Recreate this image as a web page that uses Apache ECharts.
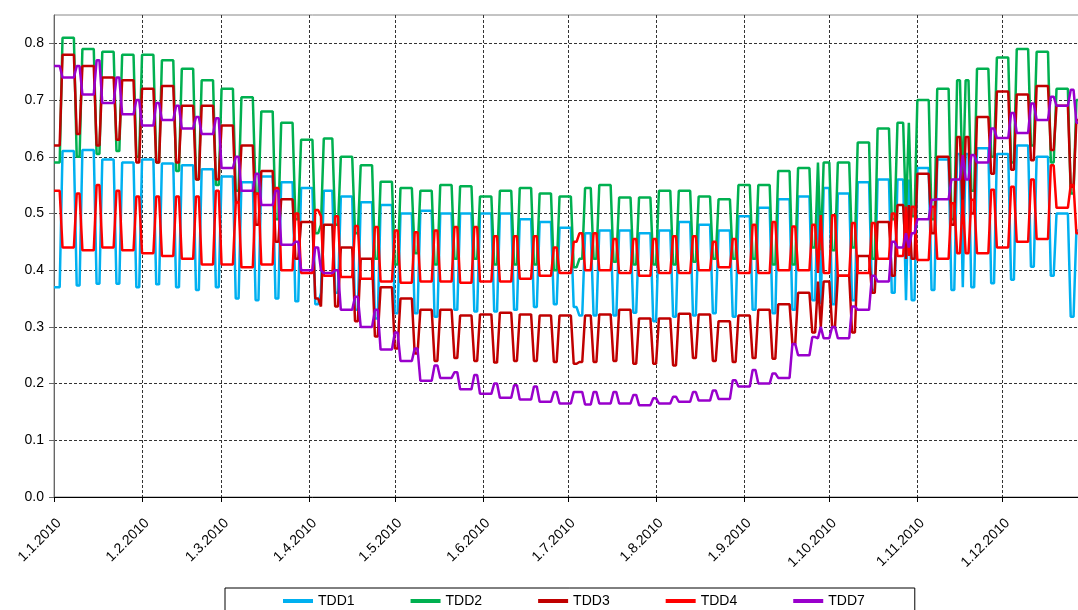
<!DOCTYPE html>
<html>
<head>
<meta charset="utf-8">
<title>TDD 2010</title>
<script src="https://cdn.jsdelivr.net/npm/echarts@6/dist/echarts.min.js"></script>
<style>
  html, body { margin: 0; padding: 0; background: #fff; overflow: hidden; }
  #chartLine { width: 1100px; height: 610px; }
</style>
</head>
<body>
<div id="chartLine"></div>
<script>
// one value per week (week 0 = Fri 1.1. - Sun 3.1., week 1 starts Mon 4.1.)
// wd = Mon-Fri level, we = Sat/Sun/holiday level
var tdd1Wd = [0.37, 0.61, 0.612, 0.595, 0.59, 0.595, 0.588, 0.585, 0.578, 0.565,
              0.555, 0.565, 0.555, 0.545, 0.54, 0.53, 0.52, 0.515, 0.50, 0.505,
              0.50, 0.50, 0.50, 0.50, 0.49, 0.485, 0.475, 0.465, 0.47, 0.47,
              0.465, 0.47, 0.485, 0.48, 0.47, 0.495, 0.51, 0.525, 0.53, 0.545,
              0.535, 0.555, 0.56, 0.56, 0.58, 0.595, 0.605, 0.615, 0.605, 0.62,
              0.60, 0.50, 0.47];
var tdd1We = [0.37, 0.373, 0.376, 0.376, 0.37, 0.375, 0.37, 0.365, 0.37, 0.35,
              0.347, 0.35, 0.345, 0.34, 0.36, 0.33, 0.315, 0.324, 0.324, 0.318,
              0.33, 0.327, 0.327, 0.33, 0.335, 0.34, 0.335, 0.32, 0.32, 0.325,
              0.31, 0.318, 0.32, 0.324, 0.318, 0.33, 0.324, 0.33, 0.347, 0.34,
              0.347, 0.365, 0.36, 0.347, 0.365, 0.365, 0.37, 0.377, 0.383, 0.406,
              0.39, 0.318, 0.40];

var tdd2Wd = [0.59, 0.81, 0.79, 0.785, 0.78, 0.78, 0.77, 0.755, 0.735, 0.72,
              0.705, 0.68, 0.66, 0.63, 0.632, 0.60, 0.585, 0.556, 0.545, 0.54,
              0.55, 0.548, 0.53, 0.54, 0.545, 0.535, 0.53, 0.545, 0.55, 0.528,
              0.528, 0.54, 0.54, 0.53, 0.525, 0.55, 0.55, 0.575, 0.58, 0.59,
              0.59, 0.625, 0.65, 0.66, 0.70, 0.72, 0.735, 0.755, 0.775, 0.79,
              0.785, 0.72, 0.70];
var tdd2We = [0.59, 0.60, 0.605, 0.61, 0.60, 0.59, 0.575, 0.56, 0.55, 0.54,
              0.535, 0.49, 0.49, 0.465, 0.48, 0.465, 0.42, 0.41, 0.43, 0.41,
              0.42, 0.42, 0.41, 0.41, 0.41, 0.40, 0.405, 0.42, 0.415, 0.41,
              0.41, 0.41, 0.415, 0.42, 0.42, 0.42, 0.41, 0.41, 0.44, 0.435,
              0.44, 0.42, 0.49, 0.495, 0.49, 0.49, 0.54, 0.60, 0.59, 0.62,
              0.59, 0.535, 0.60];

var tdd3Wd = [0.62, 0.78, 0.76, 0.74, 0.735, 0.72, 0.725, 0.69, 0.69, 0.655,
              0.62, 0.575, 0.525, 0.485, 0.48, 0.44, 0.42, 0.37, 0.35, 0.33,
              0.33, 0.32, 0.322, 0.325, 0.322, 0.32, 0.32, 0.32, 0.322, 0.33,
              0.315, 0.315, 0.323, 0.322, 0.31, 0.32, 0.33, 0.34, 0.36, 0.38,
              0.39, 0.425, 0.485, 0.515, 0.57, 0.60, 0.635, 0.67, 0.715, 0.71,
              0.725, 0.69, 0.665];
var tdd3We = [0.62, 0.64, 0.62, 0.63, 0.59, 0.59, 0.59, 0.56, 0.56, 0.52,
              0.48, 0.45, 0.42, 0.35, 0.336, 0.31, 0.283, 0.262, 0.253, 0.24,
              0.245, 0.24, 0.237, 0.24, 0.24, 0.238, 0.235, 0.238, 0.24, 0.235,
              0.235, 0.232, 0.245, 0.24, 0.238, 0.245, 0.244, 0.27, 0.29, 0.30,
              0.29, 0.36, 0.39, 0.42, 0.465, 0.48, 0.50, 0.57, 0.577, 0.594,
              0.612, 0.547, 0.60];

var tdd4Wd = [0.54, 0.44, 0.435, 0.44, 0.435, 0.43, 0.425, 0.42, 0.41, 0.41,
              0.405, 0.41, 0.40, 0.395, 0.39, 0.388, 0.385, 0.38, 0.378, 0.38,
              0.38, 0.378, 0.38, 0.38, 0.385, 0.39, 0.395, 0.40, 0.40, 0.395,
              0.39, 0.395, 0.395, 0.40, 0.405, 0.395, 0.395, 0.40, 0.40, 0.395,
              0.39, 0.395, 0.42, 0.425, 0.418, 0.42, 0.43, 0.43, 0.44, 0.45,
              0.455, 0.51, 0.465];
var tdd4We = [0.54, 0.535, 0.55, 0.54, 0.53, 0.53, 0.53, 0.53, 0.54, 0.52,
              0.535, 0.545, 0.50, 0.506, 0.495, 0.478, 0.476, 0.47, 0.467, 0.47,
              0.476, 0.476, 0.46, 0.46, 0.46, 0.44, 0.45, 0.465, 0.455, 0.455,
              0.455, 0.46, 0.46, 0.45, 0.455, 0.48, 0.485, 0.477, 0.48, 0.497,
              0.483, 0.483, 0.50, 0.512, 0.512, 0.518, 0.524, 0.542, 0.547, 0.56,
              0.585, 0.55, 0.50];

var tdd7Wd = [0.76, 0.74, 0.71, 0.695, 0.675, 0.655, 0.665, 0.65, 0.64, 0.58,
              0.54, 0.515, 0.445, 0.40, 0.395, 0.33, 0.30, 0.26, 0.24, 0.205,
              0.21, 0.19, 0.182, 0.175, 0.172, 0.168, 0.165, 0.163, 0.165, 0.165,
              0.162, 0.165, 0.168, 0.17, 0.173, 0.195, 0.20, 0.21, 0.25, 0.28,
              0.28, 0.33, 0.38, 0.44, 0.49, 0.525, 0.56, 0.59, 0.633, 0.642,
              0.665, 0.69, 0.66];
var tdd7We = [0.76, 0.76, 0.77, 0.74, 0.70, 0.695, 0.69, 0.67, 0.668, 0.60,
              0.57, 0.54, 0.45, 0.44, 0.40, 0.353, 0.33, 0.29, 0.262, 0.232,
              0.22, 0.215, 0.20, 0.197, 0.195, 0.185, 0.185, 0.185, 0.185, 0.18,
              0.174, 0.177, 0.185, 0.188, 0.206, 0.224, 0.218, 0.27, 0.282, 0.30,
              0.336, 0.39, 0.45, 0.465, 0.524, 0.56, 0.603, 0.65, 0.677, 0.694,
              0.706, 0.718, 0.66];

// non-working weekdays (day index from 1.1.2010)
var holidays = [0, 94, 185, 186, 270, 300, 320];

var seriesNames = ['TDD1', 'TDD2', 'TDD3', 'TDD4', 'TDD7'];
var yTicks = [0, 0.1, 0.2, 0.3, 0.4, 0.5, 0.6, 0.7, 0.8];

var days = [];
for (var i = 0; i < 365; i++) {
    var dt = new Date(2010, 0, 1 + i);
    days.push(dt.getDate() + '.' + (dt.getMonth() + 1) + '.' + dt.getFullYear());
}

function expand(wd, we) {
    var out = [];
    for (var d = 0; d < days.length; d++) {
        var k = Math.floor((d + 4) / 7);
        var dow = (d + 4) % 7;
        var off = dow >= 5 || holidays.indexOf(d) >= 0;
        out.push(off ? we[k] : wd[k]);
    }
    return out;
}

var seriesData = [
    expand(tdd1Wd, tdd1We),
    expand(tdd2Wd, tdd2We),
    expand(tdd3Wd, tdd3We),
    expand(tdd4Wd, tdd4We),
    expand(tdd7Wd, tdd7We)
];

var colors = ['#00B0F0', '#00B050', '#C00000', '#FF0000', '#9900CC'];
var font = 'Liberation Sans, Arial, sans-serif';

var isMonthStart = function (index, value) {
    return value.indexOf('1.') === 0;
};

var chartDom = document.getElementById('chartLine');
var myChart = echarts.init(chartDom);

var option = {
    animation: false,
    backgroundColor: '#fff',
    color: colors,
    grid: {
        left: 54,
        top: 15,
        width: 364 * 2.84,
        height: 482,
        show: true,
        borderColor: '#888',
        borderWidth: 1,
        backgroundColor: 'transparent'
    },
    legend: {
        data: seriesNames,
        left: 225,
        top: 588,
        padding: [6, 50, 30, 58],
        itemGap: 56,
        itemWidth: 30,
        itemHeight: 4,
        icon: 'rect',
        borderColor: '#000',
        borderWidth: 1,
        textStyle: { fontFamily: font, fontSize: 14, color: '#000' }
    },
    xAxis: {
        type: 'category',
        data: days,
        boundaryGap: false,
        axisLine: { lineStyle: { color: '#000', width: 1 } },
        axisTick: { interval: isMonthStart, length: 5, lineStyle: { color: '#000' } },
        axisLabel: {
            interval: isMonthStart,
            rotate: 45,
            margin: 19,
            verticalAlign: 'top',
            fontFamily: font,
            fontSize: 14,
            color: '#000'
        },
        splitLine: {
            show: true,
            interval: isMonthStart,
            lineStyle: { color: '#333', type: [3, 2], width: 1 }
        }
    },
    yAxis: {
        type: 'value',
        min: 0,
        max: 0.85,
        interval: 0.1,
        axisLine: { show: true, lineStyle: { color: '#666' } },
        axisTick: { show: true, length: 5, lineStyle: { color: '#666' } },
        axisLabel: {
            showMaxLabel: false,
            margin: 10,
            fontFamily: font,
            fontSize: 14,
            color: '#000',
            formatter: function (v) {
                return yTicks.indexOf(Math.round(v * 10) / 10) >= 0 ? v.toFixed(1) : '';
            }
        },
        splitLine: {
            show: true,
            showMaxLine: false,
            lineStyle: { color: '#333', type: [3, 2], width: 1 }
        }
    },
    series: seriesNames.map(function (name, i) {
        return {
            name: name,
            type: 'line',
            data: seriesData[i],
            symbol: 'none',
            lineStyle: { width: 2.5 },
            emphasis: { disabled: true }
        };
    })
};

myChart.setOption(option);
</script>
</body>
</html>
